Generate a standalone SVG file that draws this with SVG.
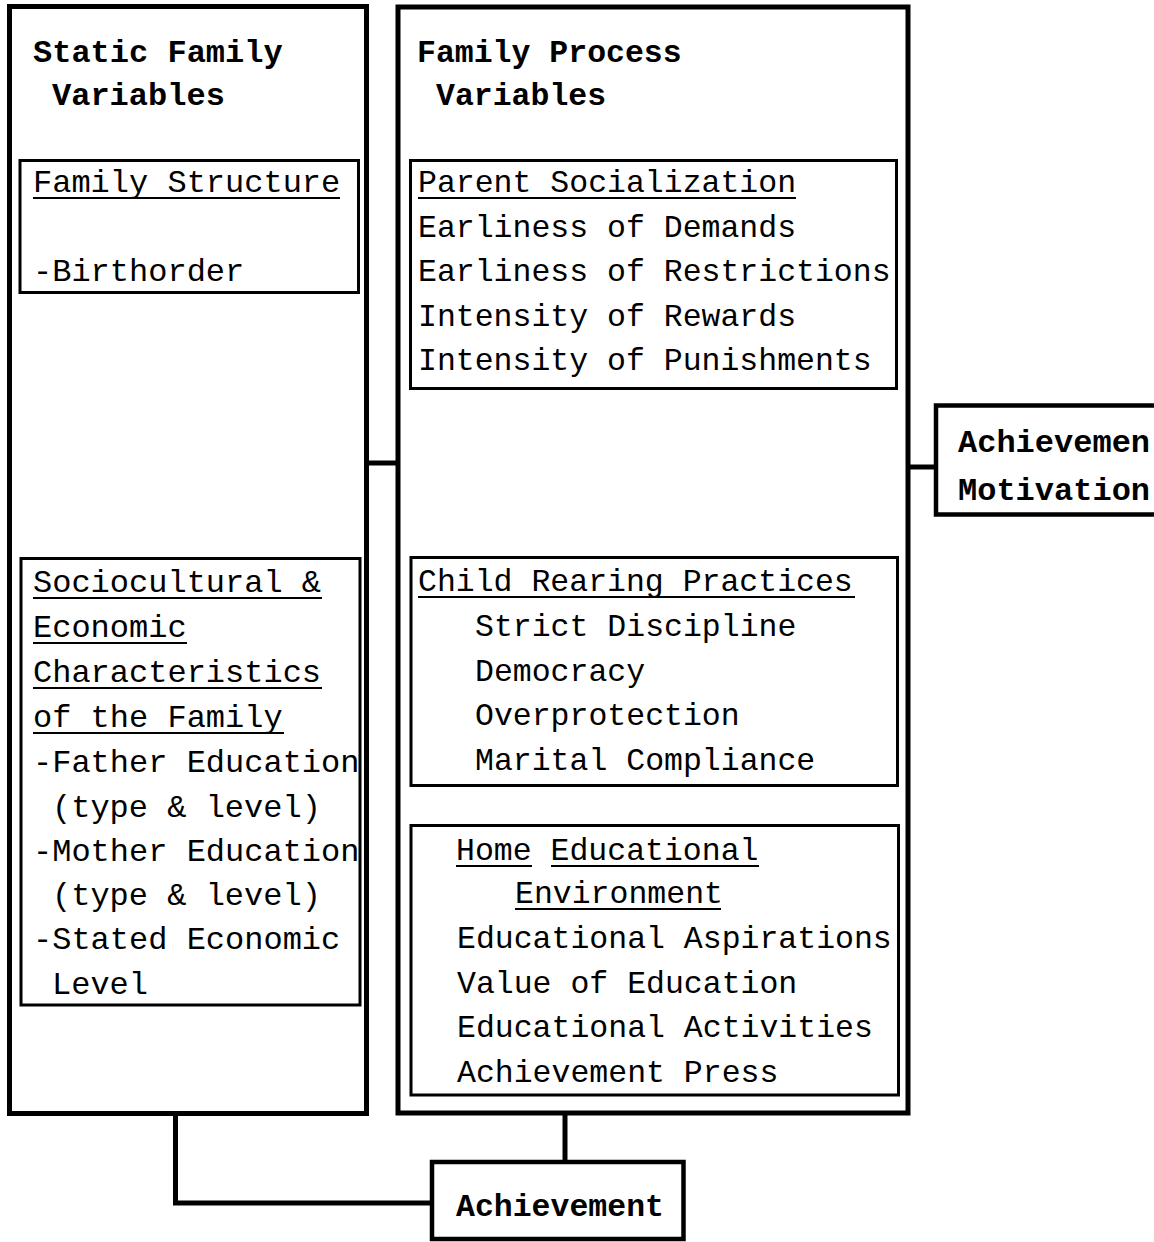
<svg xmlns="http://www.w3.org/2000/svg" width="1154" height="1242" viewBox="0 0 1154 1242">
<style>
.outer{fill:none;stroke:#000;stroke-width:5}
.inner{fill:none;stroke:#000;stroke-width:3}
.term{fill:#fff;stroke:#000;stroke-width:4.5}
.conn{fill:none;stroke:#000;stroke-width:5}
.ul{stroke:#000;stroke-width:2}
text{font-family:"Liberation Mono","Courier New",monospace;font-size:31.5px;fill:#000}
.l{font-size:32px}
.b{font-weight:bold}
</style>
<rect width="1154" height="1242" fill="#fff"/>
<g id="connectors">
<line class="conn" x1="366" y1="463" x2="398" y2="463"/>
<line class="conn" x1="908" y1="467" x2="936" y2="467"/>
<line class="conn" x1="565" y1="1113" x2="565" y2="1162"/>
<polyline class="conn" points="175.5,1114 175.5,1203 432,1203"/>
</g>
<g id="static-family-variables">
<rect class="outer" x="9.5" y="6.5" width="357" height="1107"/>
<text class="b l" x="33" y="62">Static Family</text>
<text class="b l" x="52" y="105">Variables</text>
</g>
<g id="family-structure">
<rect class="inner" x="20" y="160.5" width="338.5" height="132"/>
<text class="l" x="33" y="192">Family Structure</text>
<line class="ul" x1="33" y1="198" x2="340" y2="198"/>
<text class="l" x="33" y="281">-Birthorder</text>
</g>
<g id="sociocultural">
<rect class="inner" x="21" y="558.5" width="339" height="446.5"/>
<text class="l" x="33" y="592">Sociocultural &amp;</text>
<line class="ul" x1="33" y1="598" x2="322" y2="598"/>
<text class="l" x="33" y="637">Economic</text>
<line class="ul" x1="33" y1="643" x2="187" y2="643"/>
<text class="l" x="33" y="682">Characteristics</text>
<line class="ul" x1="33" y1="688" x2="322" y2="688"/>
<text class="l" x="33" y="727">of the Family</text>
<line class="ul" x1="33" y1="733" x2="284" y2="733"/>
<text class="l" x="33" y="772">-Father Education</text>
<text class="l" x="52" y="817">(type &amp; level)</text>
<text class="l" x="33" y="861">-Mother Education</text>
<text class="l" x="52" y="905">(type &amp; level)</text>
<text class="l" x="33" y="949">-Stated Economic</text>
<text class="l" x="52" y="994">Level</text>
</g>
<g id="family-process-variables">
<rect class="outer" x="398" y="7" width="510" height="1106"/>
<text class="b" x="417" y="62">Family Process</text>
<text class="b" x="436" y="105">Variables</text>
</g>
<g id="parent-socialization">
<rect class="inner" x="410.5" y="160.5" width="486" height="228"/>
<text x="418" y="192">Parent Socialization</text>
<line class="ul" x1="418" y1="198" x2="796" y2="198"/>
<text x="418" y="237">Earliness of Demands</text>
<text x="418" y="281">Earliness of Restrictions</text>
<text x="418" y="326">Intensity of Rewards</text>
<text x="418" y="370">Intensity of Punishments</text>
</g>
<g id="child-rearing-practices">
<rect class="inner" x="411" y="557.5" width="486.5" height="228"/>
<text x="418" y="591">Child Rearing Practices</text>
<line class="ul" x1="418" y1="597" x2="855" y2="597"/>
<text x="475" y="636">Strict Discipline</text>
<text x="475" y="681">Democracy</text>
<text x="475" y="725">Overprotection</text>
<text x="475" y="770">Marital Compliance</text>
</g>
<g id="home-educational-environment">
<rect class="inner" x="411" y="825.5" width="487.5" height="269.5"/>
<text x="456" y="860">Home Educational</text>
<line class="ul" x1="456" y1="866" x2="532" y2="866"/>
<line class="ul" x1="551" y1="866" x2="759" y2="866"/>
<text x="515" y="903">Environment</text>
<line class="ul" x1="515" y1="909" x2="721" y2="909"/>
<text x="457" y="948">Educational Aspirations</text>
<text x="457" y="993">Value of Education</text>
<text x="457" y="1037">Educational Activities</text>
<text x="457" y="1082">Achievement Press</text>
</g>
<g id="achievement-motivation">
<rect class="term" x="936" y="405.5" width="230" height="109"/>
<text class="b l" x="958" y="452">Achievemen</text>
<text class="b l" x="958" y="500">Motivation</text>
</g>
<g id="achievement">
<rect class="term" x="432" y="1162" width="251.5" height="77"/>
<text class="b" x="456" y="1216">Achievement</text>
</g>
</svg>
